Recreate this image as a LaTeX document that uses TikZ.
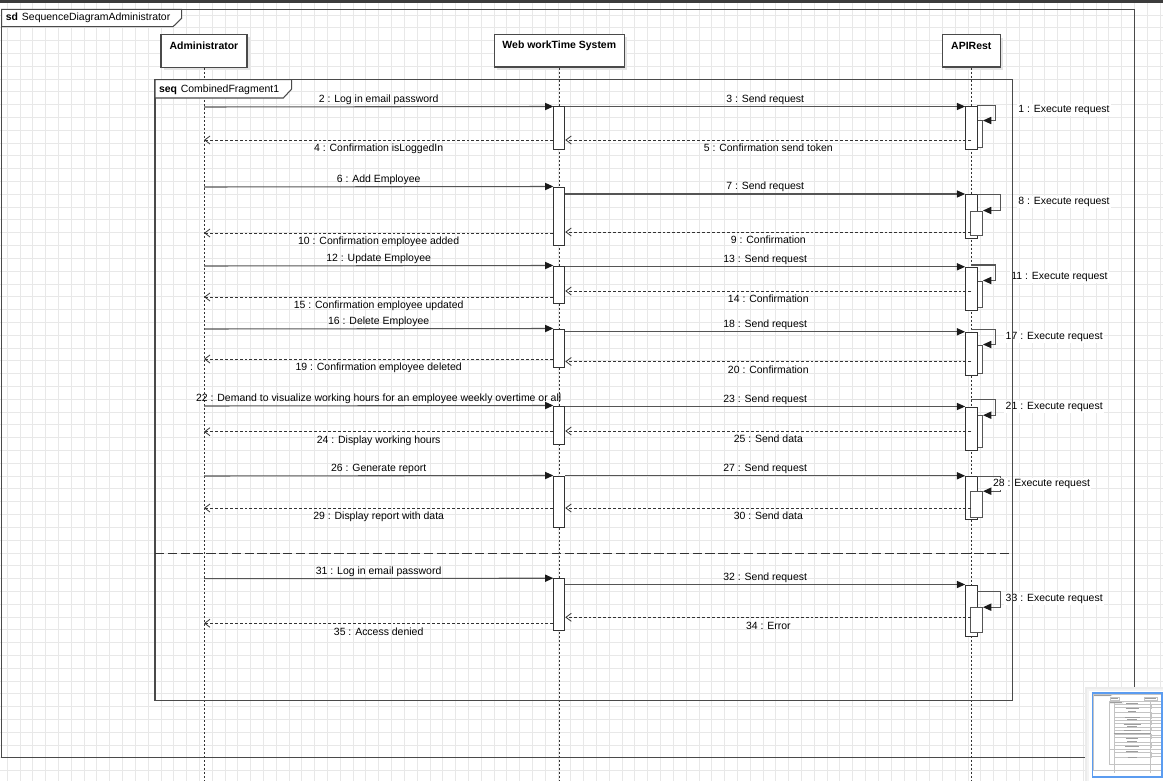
\documentclass[tikz,border=0pt]{standalone}
\usepackage{fontspec}
\setmainfont{Liberation Sans}
\usetikzlibrary{arrows.meta,fit}
\definecolor{gridc}{HTML}{E8E8E8}
\definecolor{framec}{HTML}{4A4A4A}
\definecolor{msgc}{HTML}{555555}
\definecolor{retc}{HTML}{333333}
\definecolor{tipc}{HTML}{1A1A1A}
\definecolor{topbar}{HTML}{3C3C3C}
\definecolor{shadowc}{HTML}{E4E4E4}
\definecolor{blueedge}{HTML}{5B9CF0}
\definecolor{minic}{HTML}{C4C4C4}
\tikzset{
  gridline/.style={draw=gridc, line width=0.75pt},
  frame/.style={draw=framec, line width=0.8pt},
  tab/.style={draw=framec, line width=0.8pt, fill=white},
  head/.style={draw=framec, fill=white, line width=0.9pt, inner sep=0pt},
  htext/.style={font=\fontsize{7.85pt}{9pt}\selectfont\bfseries, inner sep=0pt},
  lifeline/.style={draw=retc, line width=0.7pt, dash pattern=on 1.5pt off 1.5pt},
  act/.style={draw=retc, fill=white, line width=0.75pt, inner sep=0pt},
  nact/.style={draw=msgc, fill=white, line width=0.75pt, inner sep=0pt},
  call/.style={draw=msgc, line width=0.8pt, -{Triangle[length=6.2pt,width=5.4pt,color=tipc]}},
  ret/.style={draw=retc, line width=0.6pt, dash pattern=on 2.2pt off 1.5pt, -{Straight Barb[length=4pt,width=6pt,line width=0.6pt]}},
  lblA/.style={midway, anchor=base, yshift=3.2pt, inner sep=0pt},
  lblB/.style={midway, anchor=base, yshift=-8.8pt, inner sep=0pt},
  exl/.style={fill=white, inner sep=1pt},
  sepline/.style={draw=retc, line width=0.75pt, dash pattern=on 7pt off 2.6pt},
  minil/.style={draw=minic, line width=0.3pt},
  minilbl/.style={draw=minic!80!black, line width=0.5pt},
}
\begin{document}
\begin{tikzpicture}[x=0.75pt, y=-0.75pt, font=\fontsize{7.85pt}{9pt}\selectfont]
\useasboundingbox (0,0) rectangle (1163,781);
\fill[white] (0,0) rectangle (1163,781);

% canvas grid
\foreach \i in {0,...,90} \draw[gridline] (7.3+12.81*\i,0) -- (7.3+12.81*\i,781);
\foreach \j in {0,...,61} \draw[gridline] (0,2.2+12.81*\j) -- (1163,2.2+12.81*\j);
\fill[topbar] (0,0) rectangle (1163,3);

% sd frame with its name tab
\node[frame, fit={(1.7,9.3)(1134.3,757.7)}, inner sep=0pt] (sdframe) {};
\filldraw[tab] (1.7,9.3) -- (1.7,26.7) -- (173,26.7) -- (181.7,18.3) -- (181.7,9.3) -- cycle;
\node[anchor=west, inner sep=0pt] (sdtitle) at (5.5,17.5) {\textbf{sd}\hspace{3pt}SequenceDiagramAdministrator};

% lifeline heads
\fill[shadowc] (164,37.3) rectangle (250,70.3);
\fill[shadowc] (497.3,37.3) rectangle (627.3,70);
\fill[shadowc] (945.3,37.7) rectangle (1003.3,70);
\node[head, fit={(161,34.3)(247,67.3)}] (adm) {};
\node[head, fit={(494.3,34.3)(624.3,67)}] (web) {};
\node[head, fit={(942.3,34.7)(1000.3,67)}] (api) {};
\node[htext] (admT) at (204,45.7) {Administrator};
\node[htext] (webT) at (559.3,45.7) {Web workTime System};
\node[htext] (apiT) at (971.3,45.7) {APIRest};

% lifelines
\coordinate (admEnd) at (204,781);
\coordinate (webEnd) at (559.3,781);
\coordinate (apiEnd) at (971.3,781);
\draw[lifeline] (adm.south) -- (admEnd);
\draw[lifeline] (web.south) -- (webEnd);
\draw[lifeline] (api.south) -- (apiEnd);

% ---------- 1: log in ----------
\node[act, fit={(553.8,107)(564.8,150)}] (w1) {};
\node[nact, fit={(970.9,121)(982.5,147.7)}] (n1) {};
\node[act, fit={(965.6,107)(977,150)}] (a1) {};
\coordinate (c2) at (204,107);
\draw[call] (c2) -- (w1.north west) node[lblA] (l2) {2 : Log in email password};
\draw[call] (w1.north east) -- (a1.north west) node[lblA] (l3) {3 : Send request};
\coordinate (k1s) at (977,105.3); \coordinate (k1c) at (995.7,105.3);
\draw[call] (k1s) -- (k1c) |- (n1.north east);
\coordinate (r5) at (971.3,140); \coordinate (r4) at (204,140);
\draw[ret] (r5) -- (w1.east |- r5) node[lblB] (l5) {5 : Confirmation send token};
\draw[ret] (w1.west |- r4) -- (r4) node[lblB] (l4) {4 : Confirmation isLoggedIn};
\node[exl] (x1) at (1064,110) {1 : Execute request};

% ---------- 2: add employee ----------
\node[act, fit={(553.8,187)(564.8,245)}] (w2) {};
\node[act, fit={(965.6,194.5)(977,238.3)}] (a2) {};
\node[nact, fit={(970.9,211)(982.5,235.7)}] (n2) {};
\coordinate (c6) at (204,187);
\draw[call] (c6) -- (w2.north west) node[lblA] (l6) {6 : Add Employee};
\draw[call] (w2.east |- a2.north) -- (a2.north west) node[lblA] (l7) {7 : Send request};
\coordinate (k2s) at (977,194.5); \coordinate (k2c) at (1000.7,194.5);
\draw[call] (k2s) -- (k2c) |- (n2.north east);
\coordinate (r9) at (971.3,232); \coordinate (r10) at (204,233);
\draw[ret] (r9) -- (w2.east |- r9) node[lblB] (l9) {9 : Confirmation};
\draw[ret] (w2.west |- r10) -- (r10) node[lblB] (l10) {10 : Confirmation employee added};
\node[exl] (x8) at (1064,202) {8 : Execute request};

% ---------- 3: update employee ----------
\node[act, fit={(553.8,266)(564.8,303)}] (w3) {};
\node[nact, fit={(970.9,281)(982.5,307)}] (n3) {};
\node[act, fit={(965.6,267.3)(977,310)}] (a3) {};
\coordinate (c12) at (204,266);
\draw[call] (c12) -- (w3.north west) node[lblA] (l12) {12 : Update Employee};
\draw[call] (w3.east |- a3.north) -- (a3.north west) node[lblA] (l13) {13 : Send request};
\coordinate (k3s) at (971.3,265); \coordinate (k3c) at (995.7,265);
\draw[call] (k3s) -- (k3c) |- (n3.north east);
\coordinate (r14) at (971.3,291); \coordinate (r15) at (204,297);
\draw[ret] (r14) -- (w3.east |- r14) node[lblB] (l14) {14 : Confirmation};
\draw[ret] (w3.west |- r15) -- (r15) node[lblB] (l15) {15 : Confirmation employee updated};
\node[exl] (x11) at (1059.5,277) {11 : Execute request};

% ---------- 4: delete employee ----------
\node[act, fit={(553.8,329)(564.8,367)}] (w4) {};
\node[nact, fit={(970.9,345)(982.5,373)}] (n4) {};
\node[act, fit={(965.6,332.3)(977,375.7)}] (a4) {};
\coordinate (c16) at (204,329);
\draw[call] (c16) -- (w4.north west) node[lblA] (l16) {16 : Delete Employee};
\draw[call] (w4.east |- a4.north) -- (a4.north west) node[lblA] (l18) {18 : Send request};
\coordinate (k4s) at (971.3,329.3); \coordinate (k4c) at (995.7,329.3);
\draw[call] (k4s) -- (k4c) |- (n4.north east);
\coordinate (r20) at (971.3,361.5); \coordinate (r19) at (204,359);
\draw[ret] (r20) -- (w4.east |- r20) node[lblB] (l20) {20 : Confirmation};
\draw[ret] (w4.west |- r19) -- (r19) node[lblB] (l19) {19 : Confirmation employee deleted};
\node[exl] (x17) at (1054.2,336.7) {17 : Execute request};

% ---------- 5: working hours ----------
\node[act, fit={(553.8,406)(564.8,444.3)}] (w5) {};
\node[nact, fit={(970.9,415.7)(982.5,447)}] (n5) {};
\node[act, fit={(965.6,407)(977,450)}] (a5) {};
\coordinate (c22) at (204,406);
\draw[call] (c22) -- (w5.north west) node[lblA] (l22) {22 : Demand to visualize working hours for an employee weekly overtime or all};
\draw[call] (w5.east |- a5.north) -- (a5.north west) node[lblA] (l23) {23 : Send request};
\coordinate (k5s) at (971.3,399.3); \coordinate (k5c) at (995.7,399.3);
\draw[call] (k5s) -- (k5c) |- (n5.north east);
\coordinate (r25) at (971.3,431); \coordinate (r24) at (204,431.7);
\draw[ret] (r25) -- (w5.east |- r25) node[lblB] (l25) {25 : Send data};
\draw[ret] (w5.west |- r24) -- (r24) node[lblB] (l24) {24 : Display working hours};
\node[exl] (x21) at (1054.2,406.7) {21 : Execute request};

% ---------- 6: report ----------
\node[act, fit={(553.8,476)(564.8,527)}] (w6) {};
\node[act, fit={(965.6,476.3)(977,519.3)}] (a6) {};
\node[nact, fit={(970.9,491.7)(982.5,517.3)}] (n6) {};
\coordinate (c26) at (204,476);
\draw[call] (c26) -- (w6.north west) node[lblA] (l26) {26 : Generate report};
\draw[call] (w6.east |- a6.north) -- (a6.north west) node[lblA] (l27) {27 : Send request};
\coordinate (k6s) at (977,476.3); \coordinate (k6c) at (1000.7,476.3);
\draw[call] (k6s) -- (k6c) |- (n6.north east);
\coordinate (r30) at (971.3,508); \coordinate (r29) at (204,508);
\draw[ret] (r30) -- (w6.east |- r30) node[lblB] (l30) {30 : Send data};
\draw[ret] (w6.west |- r29) -- (r29) node[lblB] (l29) {29 : Display report with data};
\node[exl] (x28) at (1041.5,483.7) {28 : Execute request};

% ---------- 7: refused log in ----------
\node[act, fit={(553.8,578.7)(564.8,630)}] (w7) {};
\node[act, fit={(965.6,585)(977,636)}] (a7) {};
\node[nact, fit={(970.9,607.7)(982.5,632.3)}] (n7) {};
\coordinate (c31) at (204,578.7);
\draw[call] (c31) -- (w7.north west) node[lblA] (l31) {31 : Log in email password};
\draw[call] (w7.east |- a7.north) -- (a7.north west) node[lblA] (l32) {32 : Send request};
\coordinate (k7s) at (977,591.7); \coordinate (k7c) at (1000.7,591.7);
\draw[call] (k7s) -- (k7c) |- (n7.north east);
\coordinate (r34) at (971.3,617.3); \coordinate (r35) at (204,623.3);
\draw[ret] (r34) -- (w7.east |- r34) node[lblB] (l34) {34 : Error};
\draw[ret] (w7.west |- r35) -- (r35) node[lblB] (l35) {35 : Access denied};
\node[exl] (x33) at (1054.2,598.7) {33 : Execute request};

% combined fragment with its operand separator
\node[frame, fit={(155,79.7)(1012.3,700.3)}, inner sep=0pt] (frag) {};
\filldraw[tab] (155,79.7) -- (155,98) -- (283.3,98) -- (291.7,89) -- (291.7,79.7) -- cycle;
\node[anchor=west, inner sep=0pt] (fragT) at (158.8,89.3) {\textbf{seq}\hspace{2.8pt}CombinedFragment1};
\coordinate (sepL) at (155,553.3); \coordinate (sepR) at (1012.3,553.3);
\draw[sepline] (sepL) -- (sepR);

% overview panel in the corner
\fill[shadowc!70] (1085,686.5) rectangle (1163,781);
\fill[shadowc!40] (1087,688.5) rectangle (1163,781);
\fill[white] (1089,690.5) rectangle (1163,781);
\begin{scope}
\clip (1093,693.5) rectangle (1161.5,776);
\begin{scope}[shift={(1093.5,693.2)}, scale=0.102]
  \draw[minil] (1.7,9.3) rectangle (1134.3,757.7);
  \draw[minil] (1.7,26.7) -- (173,26.7) -- (181.7,18.3) -- (181.7,9.3);
  \draw[minilbl] (5,17.5) -- (168,17.5);
  \draw[minil] (161,34.3) rectangle (247,67.3);
  \draw[minil] (494.3,34.3) rectangle (624.3,67);
  \draw[minil] (942.3,34.7) rectangle (1000.3,67);
  \draw[minilbl] (170,45.7) -- (238,45.7);
  \draw[minilbl] (503,45.7) -- (615,45.7);
  \draw[minil] (204,67.3) -- (204,781);
  \draw[minil] (559.3,67) -- (559.3,781);
  \draw[minil] (971.3,67) -- (971.3,781);
  \draw[minil] (155,79.7) rectangle (1012.3,700.3);
  \draw[minil] (155,98) -- (283.3,98) -- (291.7,89) -- (291.7,79.7);
  \draw[minilbl] (159,89) -- (278,89);
  \draw[minil] (155,553.3) -- (1012.3,553.3);
  \foreach \ya/\yb in {107/150,187/245,266/303,329/367,406/444.3,476/527,578.7/630}
    \draw[minil] (553.8,\ya) rectangle (564.8,\yb);
  \foreach \ya/\yb in {107/150,194.5/238.3,267.3/310,332.3/375.7,407/450,476.3/519.3,585/636}
    \draw[minil] (965.6,\ya) rectangle (977,\yb);
  \foreach \y in {107,187,266,329,406,476,578.7,140,233,297,359,431.7,508,623.3}
    \draw[minil] (204,\y) -- (553.8,\y);
  \foreach \y in {107,194.5,267.3,332.3,407,476.3,585,140,232,291,361.5,431,508,617.3}
    \draw[minil] (564.8,\y) -- (965.6,\y);
  \foreach \cx/\cy/\w in {378.9/99/118,764/99/77,378.9/148/127,768/148/128,378.9/180/78,
      768/186/77,768/240/73,378.9/241/150,378.9/258/95,768/258/83,768/299/80,378.9/305/168,
      378.9/322/92,768/324/83,378.9/367/165,768/369/80,378.9/397/362,768/398/83,
      378.9/440/121,768/439/66,378.9/468/93,768/468/83,378.9/517/135,768/517/66,
      378.9/570.7/124,768/577/83,768/626/44,378.9/631.7/87,
      1064/110/90,1064/202/90,1059/277/95,1054/337/95,1054/407/95,1041/484/95,1054/599/95}
    \draw[minilbl] (\cx-\w/2,\cy) -- (\cx+\w/2,\cy);
\end{scope}
\end{scope}
\draw[draw=blueedge, line width=1.4pt] (1092.5,692.8) rectangle (1162,776.8);
\end{tikzpicture}
\end{document}
